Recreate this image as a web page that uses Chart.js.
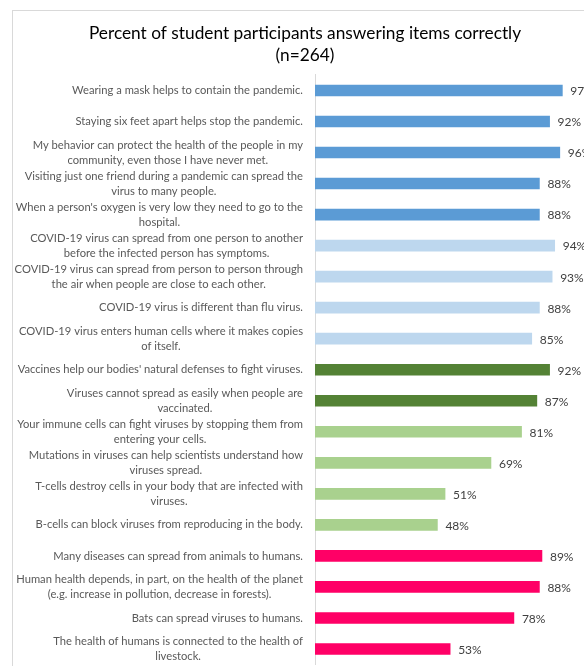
<!DOCTYPE html>
<html>
<head>
<meta charset="utf-8">
<script src="https://cdn.jsdelivr.net/npm/chart.js@4/dist/chart.umd.min.js"></script>
<style>
  html, body { margin: 0; padding: 0; background: #fff; overflow: hidden; }
  #wrap { width: 610px; height: 680px; }
</style>
</head>
<body>
<div id="wrap"><canvas id="itemsChart" width="610" height="680"></canvas></div>
<script>
// items (each label already split into lines as in the original)
const items = [
    ['Wearing a mask helps to contain the pandemic.'],
    ['Staying six feet apart helps stop the pandemic.'],
    ['My behavior can protect the health of the people in my', 'community, even those I have never met.'],
    ['Visiting just one friend during a pandemic can spread the', 'virus to many people.'],
    ["When a person's oxygen is very low they need to go to the", 'hospital.'],
    ['COVID-19 virus can spread from one person to another', 'before the infected person has symptoms.'],
    ['COVID-19 virus can spread from person to person through', 'the air when people are close to each other.'],
    ['COVID-19 virus is different than flu virus.'],
    ['COVID-19 virus enters human cells where it makes copies', 'of itself.'],
    ["Vaccines help our bodies' natural defenses to fight viruses."],
    ['Viruses cannot spread as easily when people are', 'vaccinated.'],
    ['Your immune cells can fight viruses by stopping them from', 'entering your cells.'],
    ['Mutations in viruses can help scientists understand how', 'viruses spread.'],
    ['T-cells destroy cells in your body that are infected with', 'viruses.'],
    ['B-cells can block viruses from reproducing in the body.'],
    ['Many diseases can spread from animals to humans.'],
    ['Human health depends, in part, on the health of the planet', '(e.g. increase in pollution, decrease in forests).'],
    ['Bats can spread viruses to humans.'],
    ['The health of humans is connected to the health of', 'livestock.']
];

// percent correct
const percentCorrect = [97, 92, 96, 88, 88, 94, 93, 88, 85, 92, 87, 81, 69, 51, 48, 89, 88, 78, 53];

// topic group of each item
const itemGroups = [
    'pandemic', 'pandemic', 'pandemic', 'pandemic', 'pandemic',
    'covid', 'covid', 'covid', 'covid',
    'vaccine', 'vaccine',
    'immune', 'immune', 'immune', 'immune',
    'onehealth', 'onehealth', 'onehealth', 'onehealth'
];

const titleLines = ['Percent of student participants answering items correctly', '(n=264)'];

const groupColors = {
    pandemic: '#5B9BD5',
    covid: '#BDD7EE',
    vaccine: '#548235',
    immune: '#A9D18E',
    onehealth: '#FF0066'
};

const labelFont = '11.2px Lato';
const AXIS_X = 315;
const SIDE_PAD = 40;

// cadre gris autour du graphique
const framePlugin = {
    id: 'frame',
    beforeDraw(chart) {
        const ctx = chart.ctx;
        ctx.save();
        ctx.fillStyle = '#fff';
        ctx.fillRect(0, 0, chart.width, chart.height);
        ctx.strokeStyle = '#D9D9D9';
        ctx.lineWidth = 1;
        ctx.strokeRect(12.5, 10.5, 586, 700);
        ctx.restore();
    }
};

// étiquettes des items : bloc aligné à droite, lignes centrées
const itemLabelsPlugin = {
    id: 'itemLabels',
    afterDraw(chart) {
        const ctx = chart.ctx;
        const yScale = chart.scales.y;
        ctx.save();
        ctx.font = labelFont;
        ctx.fillStyle = '#595959';
        ctx.textAlign = 'center';
        ctx.textBaseline = 'middle';
        const lineH = 15;
        items.forEach((lines, i) => {
            const yc = yScale.getPixelForValue(i);
            const w = Math.max(...lines.map(l => ctx.measureText(l).width));
            const xc = chart.chartArea.left - 12 - w / 2;
            lines.forEach((l, k) => {
                ctx.fillText(l, xc, yc + (k - (lines.length - 1) / 2) * lineH);
            });
        });
        ctx.restore();
    }
};

// valeurs à droite des barres
const valueLabelsPlugin = {
    id: 'valueLabels',
    afterDatasetsDraw(chart) {
        const ctx = chart.ctx;
        const meta = chart.getDatasetMeta(0);
        ctx.save();
        ctx.font = '12px Lato';
        ctx.fillStyle = '#404040';
        ctx.textAlign = 'left';
        ctx.textBaseline = 'middle';
        meta.data.forEach((bar, i) => {
            ctx.fillText(percentCorrect[i] + '%', bar.x + 8, bar.y + 1);
        });
        ctx.restore();
    }
};

function initChart() {
    const ctx = document.getElementById('itemsChart').getContext('2d');
    new Chart(ctx, {
        type: 'bar',
        data: {
            labels: items,
            datasets: [{
                label: 'Percent correct',
                data: percentCorrect,
                backgroundColor: itemGroups.map(g => groupColors[g]),
                barThickness: 11
            }]
        },
        options: {
            indexAxis: 'y',
            responsive: false,
            animation: false,
            layout: { padding: { left: SIDE_PAD, right: SIDE_PAD, top: 0, bottom: 15.5 } },
            plugins: {
                legend: { display: false },
                tooltip: { enabled: false },
                title: {
                    display: true,
                    text: titleLines,
                    color: '#000',
                    font: { family: 'Lato', size: 17.3, weight: 'normal', lineHeight: 1.27 },
                    padding: { top: 22, bottom: 9 }
                }
            },
            scales: {
                x: {
                    display: false,
                    min: 0,
                    max: 100
                },
                y: {
                    ticks: { display: false },
                    grid: { display: false },
                    border: { display: true, color: '#D9D9D9', width: 1 },
                    afterFit(scale) { scale.width = AXIS_X - SIDE_PAD; }
                }
            }
        },
        plugins: [framePlugin, itemLabelsPlugin, valueLabelsPlugin]
    });
}

document.addEventListener('DOMContentLoaded', initChart);
</script>
</body>
</html>
